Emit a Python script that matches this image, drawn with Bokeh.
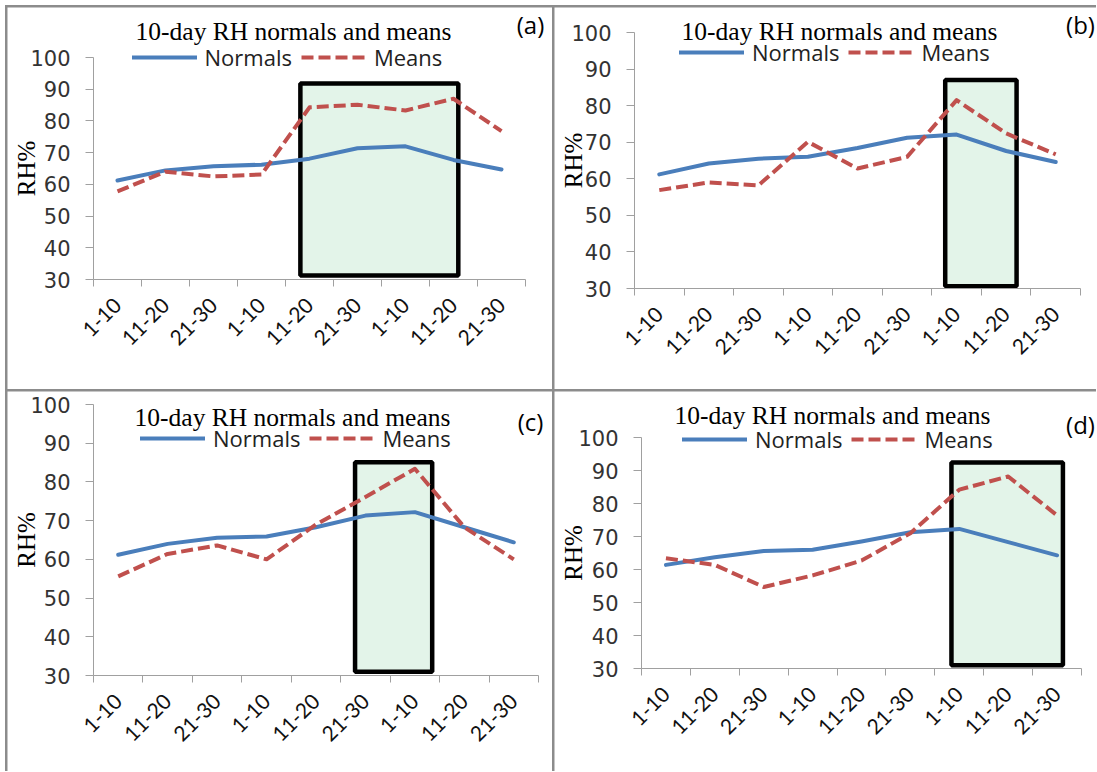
import math
from bokeh.plotting import figure
from bokeh.models import (Range1d, FixedTicker, Label, Legend, LegendItem,
                          BoxAnnotation, Column, Row)
from bokeh.embed import file_html
from bokeh.resources import INLINE

# ---------------- data ----------------
periods = ["1-10", "11-20", "21-30", "1-10", "11-20", "21-30", "1-10", "11-20", "21-30"]
x_idx = [1, 2, 3, 4, 5, 6, 7, 8, 9]
y_ticks = [30, 40, 50, 60, 70, 80, 90, 100]

normals_a = [61.2, 64.4, 65.7, 66.2, 68.1, 71.4, 72.0, 67.7, 64.7]
means_a = [57.8, 64.0, 62.5, 63.1, 84.3, 85.1, 83.3, 87.0, 76.8]
normals_b = [61.2, 64.2, 65.5, 66.0, 68.4, 71.2, 72.1, 67.6, 64.6]
means_b = [56.9, 59.0, 58.2, 70.1, 62.8, 66.0, 81.5, 72.4, 66.7]
normals_c = [61.2, 64.0, 65.6, 65.9, 68.3, 71.3, 72.2, 68.3, 64.4]
means_c = [55.6, 61.4, 63.6, 60.0, 69.0, 76.1, 83.4, 68.3, 60.0]
normals_d = [61.4, 63.7, 65.6, 66.0, 68.5, 71.3, 72.3, 68.3, 64.3]
means_d = [63.4, 61.4, 54.7, 58.2, 62.7, 71.0, 84.2, 88.2, 76.4]

# highlighted windows: left, right (category units), bottom, top (RH %)
box_a = [4.81, 8.10, 31.3, 91.8]
box_b = [6.77, 8.21, 30.6, 87.0]
box_c = [5.79, 7.35, 31.0, 85.1]
box_d = [6.84, 9.12, 31.0, 92.4]

tags = ["(a)", "(b)", "(c)", "(d)"]
title_text = "10-day RH normals and means"

# ---------------- styling / layout ----------------
BLUE = "#4a7ebb"
RED = "#c0504d"
AXIS = "#a0a0a0"
GRID_GRAY = "#8c8c8c"

X0, X1 = 0.5, 9.5      # category axis extent
Y0, Y1 = 30, 100       # value axis extent

# panel geometry in local px: W, H, plot-area left/right/top/bottom,
# title centre/baseline, legend start/centre, tag centre
geoms = {
    "a": dict(W=545, H=382, fl=86, fr=518, ft=50, fb=272, tx=286, ty=24, lx=124.5, ly=50, gx=522, gy=17),
    "b": dict(W=542, H=382, fl=80, fr=526, ft=25, fb=281, tx=285, ty=24, lx=125, ly=45, gx=525, gy=17),
    "c": dict(W=545, H=380, fl=86, fr=531, ft=13, fb=284, tx=285, ty=26, lx=133, ly=47, gx=522, gy=30),
    "d": dict(W=542, H=380, fl=87, fr=527, ft=46, fb=277, tx=278, ty=24, lx=128, ly=48, gx=525, gy=33),
}


def make_panel(key, tag, normals, means, box):
    g = geoms[key]
    W, H = g["W"], g["H"]
    sx = (g["fr"] - g["fl"]) / (X1 - X0)
    sy = (g["fb"] - g["ft"]) / (Y1 - Y0)
    xs = X0 - g["fl"] / sx
    ys = Y0 - (H - g["fb"]) / sy
    p = figure(width=W, height=H, output_backend="svg", toolbar_location=None,
               x_range=Range1d(xs, xs + W / sx), y_range=Range1d(ys, ys + H / sy),
               min_border=0)
    p.outline_line_color = None
    p.xgrid.visible = False
    p.ygrid.visible = False
    p.background_fill_color = "white"
    p.border_fill_color = "white"

    # axes (placed inside the canvas at the plot-area edges)
    yax = p.yaxis[0]
    yax.fixed_location = X0
    yax.bounds = (Y0, Y1)
    yax.ticker = FixedTicker(ticks=y_ticks, minor_ticks=[])
    yax.axis_line_color = AXIS
    yax.major_tick_line_color = AXIS
    yax.major_tick_out = 8
    yax.major_tick_in = 0
    yax.minor_tick_line_color = None
    yax.major_label_standoff = 15
    yax.major_label_text_font = "DejaVu Sans"
    yax.major_label_text_font_size = "21px"
    yax.major_label_text_color = "#333333"

    xax = p.xaxis[0]
    xax.fixed_location = Y0
    xax.bounds = (X0, X1)
    xax.ticker = FixedTicker(ticks=x_idx, minor_ticks=[i + 0.5 for i in range(0, 10)])
    xax.major_label_overrides = {i: lab for i, lab in zip(x_idx, periods)}
    xax.axis_line_color = AXIS
    xax.major_tick_line_color = None
    xax.major_tick_out = 0
    xax.major_tick_in = 0
    xax.minor_tick_line_color = AXIS
    xax.minor_tick_out = 7
    xax.minor_tick_in = 0
    xax.major_label_orientation = math.pi / 4
    xax.major_label_standoff = 15
    xax.major_label_text_font = "Lato"
    xax.major_label_text_font_size = "21px"
    xax.major_label_text_color = "#111111"

    # highlighted box
    p.add_layout(BoxAnnotation(left=box[0], right=box[1], bottom=box[2], top=box[3],
                               fill_color="#e3f4e9", fill_alpha=1.0,
                               line_color="black", line_alpha=1.0, line_width=4.5,
                               level="underlay"))

    rn = p.line(x_idx, normals, line_color=BLUE, line_width=4, line_join="round", line_cap="round")
    rm = p.line(x_idx, means, line_color=RED, line_width=4, line_dash="12 5", line_join="round")

    # legend (location is bottom-left relative to the canvas, px)
    leg_h = 30
    legend = Legend(items=[LegendItem(label="Normals", renderers=[rn]),
                           LegendItem(label="Means", renderers=[rm])],
                    orientation="horizontal",
                    location=(g["lx"], H - g["ly"] - leg_h / 2),
                    padding=0, margin=0, spacing=9, label_standoff=8,
                    glyph_width=65, glyph_height=leg_h, label_height=leg_h,
                    border_line_color=None, background_fill_alpha=0,
                    label_text_font="Open Sans", label_text_font_size="22px",
                    label_text_color="#222222")
    p.add_layout(legend, "center")

    # title
    p.add_layout(Label(x=g["tx"], y=H - g["ty"], x_units="screen", y_units="screen",
                       text=title_text, text_font="Liberation Serif", text_font_size="25.5px",
                       text_align="center", text_baseline="alphabetic", text_color="black"))
    # panel tag
    p.add_layout(Label(x=g["gx"] + 1, y=H - g["gy"], x_units="screen", y_units="screen",
                       text=tag, text_font="Open Sans", text_font_size="24px",
                       text_align="center", text_baseline="middle", text_color="black"))
    # y axis label
    p.add_layout(Label(x=18.5, y=H - (g["fb"] + g["ft"]) / 2, x_units="screen", y_units="screen",
                       text="RH%", angle=math.pi / 2, text_font="Liberation Serif",
                       text_font_size="25px", text_align="center", text_baseline="middle",
                       text_color="black"))
    return p


pa = make_panel("a", tags[0], normals_a, means_a, box_a)
pb = make_panel("b", tags[1], normals_b, means_b, box_b)
pc = make_panel("c", tags[2], normals_c, means_c, box_c)
pd = make_panel("d", tags[3], normals_d, means_d, box_d)

pa.margin = (2, 0, 0, 2)
pb.margin = (2, 0, 0, 0)
pc.margin = (0, 0, 0, 2)
pd.margin = (0, 0, 0, 0)

r1 = Row(children=[pa, pb], spacing=2)
r2 = Row(children=[pc, pd], spacing=2)
layout = Column(children=[r1, r2], spacing=2, margin=(5, 0, 0, 5),
                styles={"background-color": GRID_GRAY})

p = layout
open("out.html", "w").write(file_html(p, INLINE))
